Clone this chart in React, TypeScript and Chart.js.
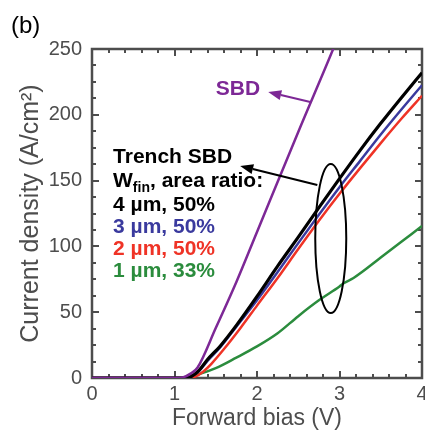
import React, { useEffect, useRef } from "react";
import { Chart, registerables } from "chart.js";

Chart.register(...registerables);

// Planar SBD reference curve
const sbdBias = [0, 1.0, 1.1, 1.2, 1.28, 1.5, 1.75, 2.0, 2.5, 2.93, 3.0];
const sbdCurrent = [0, 0, 0.5, 3.5, 8, 38, 73, 111, 187, 251, 262];

// Trench SBDs, W_fin = 4 µm (50 %)
const fin4Bias = [0, 1.1, 1.2, 1.3, 1.4, 1.55, 1.75, 2.0, 2.25, 2.5, 2.75, 3.0, 3.25, 3.5, 3.75, 4.0];
const fin4Current = [0, 0, 1, 6, 14, 24, 40, 62, 85, 107, 129.5, 151.5, 173, 193.5, 213, 232];

// W_fin = 3 µm (50 %)
const fin3Bias = [0, 1.1, 1.2, 1.3, 1.4, 1.55, 1.75, 2.0, 2.25, 2.5, 2.75, 3.0, 3.25, 3.5, 3.75, 4.0];
const fin3Current = [0, 0, 1, 5.5, 13, 23, 39, 59, 80.5, 102.5, 124, 145, 165, 185, 204, 222.5];

// W_fin = 2 µm (50 %)
const fin2Bias = [0, 1.15, 1.25, 1.35, 1.45, 1.6, 1.8, 2.0, 2.25, 2.5, 2.75, 3.0, 3.25, 3.5, 3.75, 4.0];
const fin2Current = [0, 0, 1, 5, 11, 22, 38, 55, 76, 98, 119.5, 140, 159.5, 178.5, 197, 214.5];

// W_fin = 1 µm (33 %)
const fin1Bias = [0, 1.1, 1.3, 1.5, 1.75, 2.0, 2.25, 2.5, 2.75, 3.0, 3.05, 3.17, 3.5, 3.75, 4.0];
const fin1Current = [0, 0, 3, 7.5, 15.5, 24, 34, 47, 59, 69.5, 72, 76, 91.5, 103.5, 115.5];

const xTickValues = [0, 1, 2, 3, 4];
const yTickValues = [0, 50, 100, 150, 200, 250];

const legendLines = ["4 µm, 50%", "3 µm, 50%", "2 µm, 50%", "1 µm, 33%"];

const PURPLE = "#7d2896";
const BLACK = "#000000";
const BLUE = "#3a3a9e";
const RED = "#ef3326";
const GREEN = "#2b8c3d";
const AXIS = "#4d4d4d";
const FONT = '"Liberation Sans", Arial, Helvetica, sans-serif';

const legendColors = [BLACK, BLUE, RED, GREEN];

const toPoints = (xs: number[], ys: number[]) => xs.map((x, i) => ({ x, y: ys[i] }));

function arrow(ctx: CanvasRenderingContext2D, x0: number, y0: number, x1: number, y1: number, color: string) {
  const ang = Math.atan2(y1 - y0, x1 - x0);
  const headLen = 13;
  const headHalf = 5;
  const bx = x1 - headLen * Math.cos(ang);
  const by = y1 - headLen * Math.sin(ang);
  ctx.save();
  ctx.strokeStyle = color;
  ctx.fillStyle = color;
  ctx.lineWidth = 2;
  ctx.beginPath();
  ctx.moveTo(x0, y0);
  ctx.lineTo(bx, by);
  ctx.stroke();
  ctx.beginPath();
  ctx.moveTo(x1, y1);
  ctx.lineTo(bx + headHalf * Math.sin(ang), by - headHalf * Math.cos(ang));
  ctx.lineTo(bx - headHalf * Math.sin(ang), by + headHalf * Math.cos(ang));
  ctx.closePath();
  ctx.fill();
  ctx.restore();
}

// Box frame with inward major/minor ticks on all four sides
const framePlugin = {
  id: "frame",
  beforeDatasetsDraw(chart: any) {
    const { ctx, chartArea: a, scales } = chart;
    const xs = scales.x;
    const ys = scales.y;
    ctx.save();
    ctx.strokeStyle = AXIS;
    ctx.lineWidth = 2;
    for (let i = 0; i <= 20; i++) {
      const v = i * 0.2;
      const len = i % 5 === 0 ? 7 : 4;
      const px = Math.round(xs.getPixelForValue(v));
      ctx.beginPath();
      ctx.moveTo(px, a.bottom);
      ctx.lineTo(px, a.bottom - len);
      ctx.moveTo(px, a.top);
      ctx.lineTo(px, a.top + len);
      ctx.stroke();
    }
    for (let i = 0; i <= 20; i++) {
      const v = i * 12.5;
      const len = i % 4 === 0 ? 7 : 4;
      const py = Math.round(ys.getPixelForValue(v));
      ctx.beginPath();
      ctx.moveTo(a.left, py);
      ctx.lineTo(a.left + len, py);
      ctx.moveTo(a.right, py);
      ctx.lineTo(a.right - len, py);
      ctx.stroke();
    }
    ctx.lineWidth = 2.5;
    ctx.strokeRect(a.left, a.top, a.right - a.left, a.bottom - a.top);
    ctx.restore();
  },
};

// Ellipse, arrows and text labels inside the plot
const annotationPlugin = {
  id: "annotations",
  afterDatasetsDraw(chart: any) {
    const { ctx, scales } = chart;
    const X = (v: number) => scales.x.getPixelForValue(v);
    const Y = (v: number) => scales.y.getPixelForValue(v);
    ctx.save();

    // ellipse around the trench curves
    const cx = X(2.894);
    const cy = Y(106);
    const rx = X(2.894 + 0.188) - cx;
    const ry = cy - Y(106 + 56.6);
    ctx.strokeStyle = BLACK;
    ctx.lineWidth = 2;
    ctx.beginPath();
    ctx.ellipse(cx, cy, rx, ry, 0, 0, Math.PI * 2);
    ctx.stroke();

    // arrows
    arrow(ctx, X(2.731), Y(146.7), X(1.796), Y(161.1), BLACK);
    arrow(ctx, X(2.646), Y(209.7), X(2.136), Y(217.3), PURPLE);

    // SBD label
    ctx.font = `bold 21px ${FONT}`;
    ctx.textAlign = "center";
    ctx.textBaseline = "alphabetic";
    ctx.fillStyle = PURPLE;
    ctx.fillText("SBD", X(1.77), Y(215));

    // text block naming the trench devices
    const lx = X(0.255);
    let by = Y(163.4);
    ctx.textAlign = "left";
    ctx.fillStyle = BLACK;
    ctx.fillText("Trench SBD", lx, by);
    by += 24;
    ctx.fillText("W", lx, by);
    let w = ctx.measureText("W").width;
    ctx.font = `bold 14px ${FONT}`;
    ctx.fillText("fin", lx + w, by + 5);
    w += ctx.measureText("fin").width;
    ctx.font = `bold 21px ${FONT}`;
    ctx.fillText(", area ratio:", lx + w, by);
    by += 24;
    legendLines.forEach((t, i) => {
      ctx.fillStyle = legendColors[i];
      ctx.fillText(t, lx, by);
      by += 22;
    });

    ctx.restore();
  },
  afterDraw(chart: any) {
    const { ctx } = chart;
    ctx.save();
    ctx.font = `24px ${FONT}`;
    ctx.fillStyle = BLACK;
    ctx.textAlign = "left";
    ctx.textBaseline = "alphabetic";
    ctx.fillText("(b)", 11, 33);
    ctx.restore();
  },
};

export default function App() {
  const canvasRef = useRef<HTMLCanvasElement>(null);

  useEffect(() => {
    const canvas = canvasRef.current;
    if (!canvas) return;
    const line = (xs: number[], ys: number[], color: string, width: number, order: number) => ({
      data: toPoints(xs, ys),
      borderColor: color,
      backgroundColor: color,
      borderWidth: width,
      pointRadius: 0,
      fill: false,
      cubicInterpolationMode: "monotone" as const,
      order,
    });
    const chart = new Chart(canvas, {
      type: "line",
      data: {
        datasets: [
          line(sbdBias, sbdCurrent, PURPLE, 2.5, 0),
          line(fin4Bias, fin4Current, BLACK, 3.2, 1),
          line(fin3Bias, fin3Current, BLUE, 2.5, 2),
          line(fin2Bias, fin2Current, RED, 2.5, 3),
          line(fin1Bias, fin1Current, GREEN, 2.5, 4),
        ],
      },
      options: {
        animation: false,
        responsive: false,
        maintainAspectRatio: false,
        devicePixelRatio: 1,
        layout: { padding: { top: 49, right: 3, left: 0, bottom: 0 } },
        plugins: { legend: { display: false }, tooltip: { enabled: false } },
        scales: {
          x: {
            type: "linear",
            min: 0,
            max: 4,
            afterBuildTicks: (s: any) => {
              s.ticks = xTickValues.map((value) => ({ value }));
            },
            ticks: { color: AXIS, font: { family: FONT, size: 20 }, padding: 4, maxRotation: 0 },
            grid: { display: false, drawTicks: false },
            border: { display: false },
            title: {
              display: true,
              text: "Forward bias (V)",
              color: AXIS,
              font: { family: FONT, size: 23, lineHeight: 1.1 },
              padding: { top: 0, bottom: 0 },
            },
            afterFit: (s: any) => {
              s.height = 53;
              s.paddingLeft = 0;
              s.paddingRight = 0;
            },
          },
          y: {
            type: "linear",
            min: 0,
            max: 250,
            afterBuildTicks: (s: any) => {
              s.ticks = yTickValues.map((value) => ({ value }));
            },
            ticks: { color: AXIS, font: { family: FONT, size: 20 }, padding: 10 },
            grid: { display: false, drawTicks: false },
            border: { display: false },
            title: {
              display: true,
              text: "Current density (A/cm²)",
              color: AXIS,
              font: { family: FONT, size: 25, lineHeight: 1.2 },
              padding: { top: 16, bottom: 0 },
            },
            afterFit: (s: any) => {
              s.width = 92;
              s.paddingTop = 0;
              s.paddingBottom = 0;
            },
          },
        },
      },
      plugins: [framePlugin, annotationPlugin],
    } as any);
    return () => chart.destroy();
  }, []);

  return (
    <div style={{ position: "absolute", left: 0, top: 0, width: 425, height: 431, background: "#fff" }}>
      <canvas ref={canvasRef} width={425} height={431} style={{ display: "block" }} />
    </div>
  );
}
